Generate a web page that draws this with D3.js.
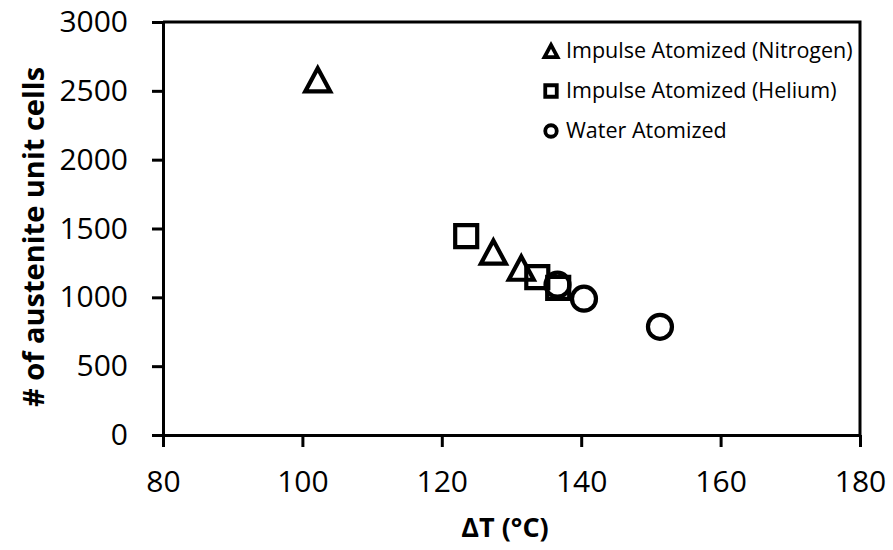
<!DOCTYPE html>
<html>
<head>
<meta charset="utf-8">
<script src="https://cdn.jsdelivr.net/npm/d3@7"></script>
<style>
  body { margin: 0; background: #fff; }
  text { font-family: "Open Sans", sans-serif; fill: #000; }
</style>
</head>
<body>
<div id="chart"></div>
<script>
// data
var nitrogenX = [102.2, 127.4, 131.4];
var nitrogenY = [2580, 1329, 1212];
var heliumX = [123.5, 133.7, 136.7];
var heliumY = [1445, 1147, 1068];
var waterX = [136.6, 140.4, 151.3];
var waterY = [1092, 990, 786];
var xTicks = [80, 100, 120, 140, 160, 180];
var yTicks = [0, 500, 1000, 1500, 2000, 2500, 3000];
var seriesNames = ["Impulse Atomized (Nitrogen)", "Impulse Atomized (Helium)", "Water Atomized"];

var W = 893, H = 550;
var plotL = 163, plotR = 860, plotT = 22, plotB = 435;

var svg = d3.select("#chart").append("svg").attr("width", W).attr("height", H);

var x = d3.scaleLinear().domain([80, 180]).range([plotL, plotR]);
var y = d3.scaleLinear().domain([0, 3000]).range([plotB, plotT]);

// plot box top + right
svg.append("path")
  .attr("d", "M" + plotL + "," + plotT + "H" + plotR + "V" + plotB)
  .attr("fill", "none").attr("stroke", "#000").attr("stroke-width", 3);

// axes
var xAxis = svg.append("g").attr("transform", "translate(0," + plotB + ")")
  .call(d3.axisBottom(x).tickValues(xTicks).tickFormat(d3.format("d"))
    .tickSize(12).tickPadding(27).tickSizeOuter(0));
var yAxis = svg.append("g").attr("transform", "translate(" + plotL + ",0)")
  .call(d3.axisLeft(y).tickValues(yTicks).tickFormat(d3.format("d"))
    .tickSize(11).tickPadding(24).tickSizeOuter(0));

[xAxis, yAxis].forEach(function (a) {
  a.select(".domain").attr("stroke", "#000").attr("stroke-width", 3);
  a.selectAll(".tick line").attr("stroke", "#000").attr("stroke-width", 3);
  a.selectAll(".tick text").style("font-size", "30px").attr("fill", "#000");
});
xAxis.selectAll(".tick text").attr("dy", "0.6em");

// axis titles
svg.append("text").attr("x", 505).attr("y", 537)
  .attr("text-anchor", "middle").style("font-size", "27px").style("font-weight", "bold")
  .text("ΔT (°C)");
svg.append("text").attr("transform", "translate(44," + 237 + ")rotate(-90)")
  .attr("text-anchor", "middle").style("font-size", "29px").style("font-weight", "bold")
  .text("# of austenite unit cells");

// marker shapes, centred on their bounding box
function triangle(s) {
  var h = s * 0.93;
  return "M0," + (-h / 2) + "L" + (s / 2) + "," + (h / 2) + "L" + (-s / 2) + "," + (h / 2) + "Z";
}
function square(s) {
  return "M" + (-s / 2) + "," + (-s / 2) + "h" + s + "v" + s + "h" + (-s) + "Z";
}
function circle(s) {
  var r = s / 2;
  return "M" + r + ",0A" + r + "," + r + " 0 1,1 " + (-r) + ",0A" + r + "," + r + " 0 1,1 " + r + ",0Z";
}

var series = [
  { xs: nitrogenX, ys: nitrogenY, shape: triangle, size: 25 },
  { xs: heliumX, ys: heliumY, shape: square, size: 22 },
  { xs: waterX, ys: waterY, shape: circle, size: 24 }
];

series.forEach(function (s) {
  svg.append("g").selectAll("path").data(s.xs).enter().append("path")
    .attr("transform", function (d, i) { return "translate(" + x(d) + "," + y(s.ys[i]) + ")"; })
    .attr("d", s.shape(s.size))
    .attr("fill", "none").attr("stroke", "#000").attr("stroke-width", 4.2)
    .attr("stroke-linejoin", "miter");
});

// legend
var legend = svg.append("g");
seriesNames.forEach(function (name, i) {
  var cy = 51 + i * 40;
  legend.append("path").attr("transform", "translate(551," + cy + ")")
    .attr("d", series[i].shape(i === 0 ? 13 : 11.5))
    .attr("fill", "none").attr("stroke", "#000").attr("stroke-width", 3.8);
  legend.append("text").attr("x", 566).attr("y", cy + 7)
    .style("font-size", "21.5px").text(name);
});
</script>
</body>
</html>
